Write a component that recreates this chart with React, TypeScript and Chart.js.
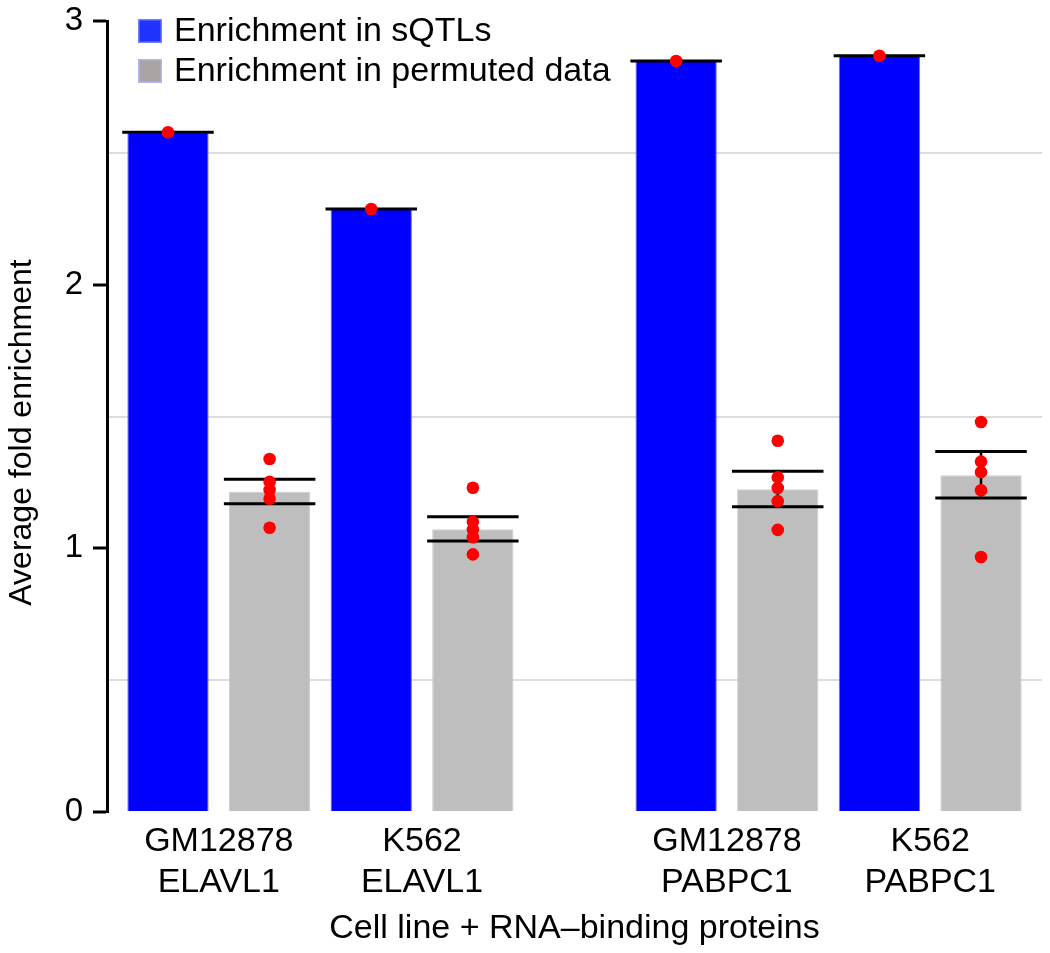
import React, { useEffect, useRef } from 'react';
import { Chart, registerables } from 'chart.js';

Chart.register(...registerables);

const FONT_FAMILY = '"Liberation Sans", Arial, Helvetica, sans-serif';

// ---- data ----
const groupLabels: string[][] = [
  ['GM12878', 'ELAVL1'],
  ['K562', 'ELAVL1'],
  ['GM12878', 'PABPC1'],
  ['K562', 'PABPC1'],
];
const groupCenters = [0.5, 2.5, 5.5, 7.5];
const sqtlX = [0, 2, 5, 7];
const permX = [1, 3, 6, 8];

const seriesNames = ['Enrichment in sQTLs', 'Enrichment in permuted data'];

const sqtlValues = [2.578, 2.287, 2.848, 2.868];
const permValues = [1.215, 1.072, 1.224, 1.277];
const permLow = [1.169, 1.028, 1.158, 1.191];
const permHigh = [1.262, 1.12, 1.292, 1.367];

const permReplicates1 = [1.339, 1.252, 1.221, 1.188, 1.078];
const permReplicates2 = [1.23, 1.101, 1.072, 1.042, 0.977];
const permReplicates3 = [1.408, 1.269, 1.229, 1.179, 1.07];
const permReplicates4 = [1.479, 1.329, 1.289, 1.22, 0.967];
const permReplicates = [permReplicates1, permReplicates2, permReplicates3, permReplicates4];

const yTicks = [0, 0.5, 1, 1.5, 2, 2.5, 3];

const xTitle = 'Cell line + RNA–binding proteins';
const yTitle = 'Average fold enrichment';

// ---- styles ----
const BLUE = '#0000ff';
const GREY = '#bebebe';
const RED = '#ff0000';
const CAP_HALF = 0.45;

const errorBarPlugin = {
  id: 'errorBars',
  afterDatasetDraw(chart: any, args: any) {
    if (args.index !== 1) return;
    const { ctx, scales } = chart;
    const xs = scales.x;
    const ys = scales.y;
    ctx.save();
    ctx.strokeStyle = '#000';
    ctx.lineCap = 'butt';
    const draw = (xv: number, lo: number, hi: number) => {
      const cx = xs.getPixelForValue(xv);
      const left = xs.getPixelForValue(xv - CAP_HALF);
      const right = xs.getPixelForValue(xv + CAP_HALF);
      const yLo = ys.getPixelForValue(lo);
      const yHi = ys.getPixelForValue(hi);
      ctx.lineWidth = 2.5;
      ctx.beginPath();
      ctx.moveTo(cx, yLo);
      ctx.lineTo(cx, yHi);
      ctx.stroke();
      ctx.lineWidth = 3;
      ctx.beginPath();
      ctx.moveTo(left, yHi);
      ctx.lineTo(right, yHi);
      ctx.moveTo(left, yLo);
      ctx.lineTo(right, yLo);
      ctx.stroke();
    };
    sqtlX.forEach((xv, i) => draw(xv, sqtlValues[i], sqtlValues[i]));
    permX.forEach((xv, i) => draw(xv, permLow[i], permHigh[i]));
    ctx.restore();
  },
};

const legendPlugin = {
  id: 'insetLegend',
  afterDraw(chart: any) {
    const { ctx, chartArea } = chart;
    const x0 = chartArea.left + 31;
    const y0 = chartArea.top - 2;
    const items = [
      { label: seriesNames[0], fill: '#1f33ff', stroke: '#7080ff' },
      { label: seriesNames[1], fill: '#aaa4a4', stroke: '#b4b4f0' },
    ];
    ctx.save();
    items.forEach((it, i) => {
      const y = y0 + i * 40;
      ctx.fillStyle = it.fill;
      ctx.fillRect(x0, y, 24, 24);
      ctx.strokeStyle = it.stroke;
      ctx.lineWidth = 1.5;
      ctx.strokeRect(x0 + 0.75, y + 0.75, 22.5, 22.5);
      ctx.fillStyle = '#000';
      ctx.font = `34px ${FONT_FAMILY}`;
      ctx.textBaseline = 'alphabetic';
      ctx.textAlign = 'left';
      ctx.fillText(it.label, x0 + 36, y + 22);
    });
    ctx.restore();
  },
};

const yTitlePlugin = {
  id: 'yTitle',
  afterDraw(chart: any) {
    const { ctx, chartArea } = chart;
    ctx.save();
    ctx.translate(22, (chartArea.top + chartArea.bottom) / 2 + 16);
    ctx.rotate(-Math.PI / 2);
    ctx.font = `32px ${FONT_FAMILY}`;
    ctx.fillStyle = '#000';
    ctx.textAlign = 'center';
    ctx.textBaseline = 'middle';
    ctx.fillText(yTitle, 0, 0);
    ctx.restore();
  },
};

export default function App() {
  const canvasRef = useRef<HTMLCanvasElement | null>(null);

  useEffect(() => {
    if (!canvasRef.current) return;
    const font = { family: FONT_FAMILY, size: 34 };
    const replicatePoints: { x: number; y: number }[] = [];
    permReplicates.forEach((vals, i) => vals.forEach((v) => replicatePoints.push({ x: permX[i], y: v })));

    const chart = new Chart(canvasRef.current, {
      type: 'bar',
      data: {
        datasets: [
          {
            label: seriesNames[0],
            data: sqtlX.map((x, i) => ({ x, y: sqtlValues[i] })),
            backgroundColor: BLUE,
            borderColor: '#6a6aff',
            borderWidth: 1,
            grouped: false,
            barPercentage: 0.8,
            categoryPercentage: 1,
            order: 2,
          } as any,
          {
            label: seriesNames[1],
            data: permX.map((x, i) => ({ x, y: permValues[i] })),
            backgroundColor: GREY,
            borderColor: '#cccccc',
            borderWidth: 1,
            grouped: false,
            barPercentage: 0.8,
            categoryPercentage: 1,
            order: 1,
          } as any,
          {
            type: 'scatter',
            label: 'sQTL value',
            data: sqtlX.map((x, i) => ({ x, y: sqtlValues[i] })),
            backgroundColor: RED,
            borderWidth: 0,
            pointRadius: 6.3,
            order: 0,
          } as any,
          {
            type: 'scatter',
            label: 'Permutations',
            data: replicatePoints,
            backgroundColor: RED,
            borderWidth: 0,
            pointRadius: 6.3,
            order: 0,
          } as any,
        ],
      },
      options: {
        responsive: false,
        animation: false,
        layout: { padding: { top: 21, right: 8, left: 0, bottom: 0 } },
        plugins: {
          legend: { display: false },
          tooltip: { enabled: false },
        },
        scales: {
          x: {
            type: 'linear',
            offset: false,
            min: -0.6,
            max: 8.6,
            afterBuildTicks: (s: any) => {
              s.ticks = groupCenters.map((v) => ({ value: v }));
            },
            afterFit: (s: any) => {
              s.height = 141;
              s.paddingLeft = 0;
              s.paddingRight = 0;
            },
            ticks: {
              autoSkip: false,
              maxRotation: 0,
              padding: 9,
              color: '#000',
              font,
              callback: (v: any) => groupLabels[groupCenters.indexOf(Number(v))] ?? '',
            },
            grid: { display: false, drawTicks: false },
            border: { display: false },
            title: {
              display: true,
              text: xTitle,
              color: '#000',
              font,
              padding: { top: 0, bottom: 4 },
            },
          },
          y: {
            type: 'linear',
            min: 0,
            max: 3,
            afterBuildTicks: (s: any) => {
              s.ticks = yTicks.map((v) => ({ value: v }));
            },
            afterFit: (s: any) => {
              s.width = 107;
              s.paddingTop = 0;
              s.paddingBottom = 0;
            },
            ticks: {
              autoSkip: false,
              padding: 10,
              color: '#000',
              font: { family: FONT_FAMILY, size: 33 },
              callback: (v: any) => (Number.isInteger(Number(v)) ? String(v) : ''),
            },
            grid: {
              color: (c: any) => (c.tick && !Number.isInteger(c.tick.value) ? '#dddddd' : 'rgba(0,0,0,0)'),
              lineWidth: 2,
              tickColor: (c: any) => (c.tick && Number.isInteger(c.tick.value) ? '#000' : 'rgba(0,0,0,0)'),
              tickLength: 14,
              tickWidth: 3,
              drawTicks: true,
            },
            border: { display: true, color: '#000', width: 3 },
            title: { display: false },
          },
        },
      } as any,
      plugins: [errorBarPlugin, legendPlugin, yTitlePlugin],
    });
    return () => chart.destroy();
  }, []);

  return (
    <div style={{ position: 'fixed', left: 0, top: 0, width: 1050, height: 953, background: '#fff' }}>
      <canvas ref={canvasRef} width={1050} height={953} style={{ display: 'block' }} />
    </div>
  );
}
